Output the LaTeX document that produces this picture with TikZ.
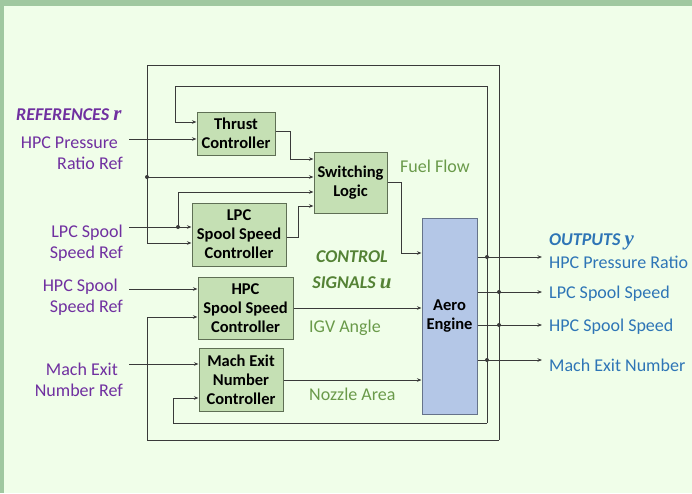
\documentclass[tikz,border=0pt]{standalone}
\usepackage{fontspec}
\setmainfont{Carlito}
\newfontfamily\mathserif{Liberation Serif}
\usetikzlibrary{arrows.meta}
\definecolor{bg}{HTML}{F0FEE9}
\definecolor{strip}{HTML}{A0C8A0}
\definecolor{blockfill}{HTML}{C5E0B4}
\definecolor{blockedge}{HTML}{5F6F55}
\definecolor{aerofill}{HTML}{B4C7E7}
\definecolor{aeroedge}{HTML}{66738A}
\definecolor{wirecol}{HTML}{3A3A3A}
\definecolor{refpurple}{HTML}{7030A0}
\definecolor{sigGreen}{HTML}{6A9A4A}
\definecolor{ctlGreen}{HTML}{548235}
\definecolor{outblue}{HTML}{2E75B6}
\begin{document}
\begin{tikzpicture}[x=1pt,y=-1pt,
  block/.style={draw=blockedge, fill=blockfill, line width=1pt, align=center, inner sep=0pt, font=\fontsize{16.5}{19}\selectfont\bfseries},
  wire/.style={draw=wirecol, line width=0.8pt},
  arr/.style={wire, -{Stealth[length=4.5pt,width=3.5pt]}},
  jdot/.style={circle, fill=wirecol, inner sep=0pt, minimum size=4pt},
  reflabel/.style={text=refpurple, font=\fontsize{18}{21}\selectfont, align=right, anchor=east, inner sep=0pt},
  siglabel/.style={text=sigGreen, font=\fontsize{18}{21}\selectfont, anchor=west, inner sep=0pt},
  outlabel/.style={text=outblue, font=\fontsize{18}{21}\selectfont, anchor=west, inner sep=0pt}]
\useasboundingbox (0,0) rectangle (692,493);
\fill[strip] (0,0) rectangle (692,493);
\fill[bg] (4,6) rectangle (692,493);

% blocks
\node[block, minimum width=78pt, minimum height=43pt] (thrust) at (236,133.5) {Thrust\\Controller};
\node[block, minimum width=73pt, minimum height=61pt] (switch) at (350.5,182.5) {Switching\\Logic};
\node[block, minimum width=94pt, minimum height=63pt] (lpc) at (239,234.5) {LPC\\Spool Speed\\Controller};
\node[block, minimum width=95pt, minimum height=62pt] (hpc) at (245.5,308) {HPC\\Spool Speed\\Controller};
\node[block, minimum width=84pt, minimum height=63pt] (mach) at (241,379.5) {Mach Exit\\Number\\Controller};
\node[block, draw=aeroedge, fill=aerofill, minimum width=55pt, minimum height=196pt] (aero) at (449.5,316) {Aero\\Engine};

% reference inputs
\coordinate (r1) at (129,139);
\coordinate (r2) at (129,227);
\coordinate (r3) at (129,289);
\coordinate (r4) at (129,364);
\draw[arr] (r1) -- (r1 -| thrust.west);
\draw[arr] (r2) -- (r2 -| lpc.west);
\draw[arr] (r3) -- (r3 -| hpc.west);
\draw[arr] (r4) -- (r4 -| mach.west);
\coordinate (jr2) at (178,227);
\coordinate (sw3) at (178,192);
\draw[arr] (jr2) -- (sw3) -- (sw3 -| switch.west);
\node[jdot] (djr2) at (jr2) {};

% controller outputs
\coordinate (t1) at (290,131);
\coordinate (t2) at (290,159);
\draw[arr] (t1 -| thrust.east) -- (t1) -- (t2) -- (t2 -| switch.west);
\coordinate (l1) at (298,237);
\coordinate (l2) at (298,206);
\draw[arr] (l1 -| lpc.east) -- (l1) -- (l2) -- (l2 -| switch.west);
\coordinate (s1) at (401,182);
\coordinate (s2) at (401,253);
\draw[arr] (s1 -| switch.east) -- (s1) -- (s2) -- (s2 -| aero.west);
\coordinate (h1) at (300,308);
\draw[arr] (h1 -| hpc.east) -- (h1 -| aero.west);
\coordinate (m1) at (300,380);
\draw[arr] (m1 -| mach.east) -- (m1 -| aero.west);

% outputs
\coordinate (o1) at (542,257);
\coordinate (o2) at (542,292);
\coordinate (o3) at (542,325);
\coordinate (o4) at (542,360);
\draw[arr] (o1 -| aero.east) -- (o1);
\draw[arr] (o2 -| aero.east) -- (o2);
\draw[arr] (o3 -| aero.east) -- (o3);
\draw[arr] (o4 -| aero.east) -- (o4);

% outer feedback loop
\coordinate (oa) at (499,65);
\coordinate (ob) at (147,65);
\coordinate (oc) at (147,243);
\coordinate (od) at (499,440);
\coordinate (oe) at (147,440);
\coordinate (of) at (147,317);
\coordinate (og) at (147,177);
\draw[arr] (od) -- (oa) -- (ob) -- (oc) -- (oc -| lpc.west);
\draw[arr] (od) -- (oe) -- (of) -- (of -| hpc.west);
\draw[arr] (og) -- (og -| switch.west);
\node[jdot] (dog) at (og) {};
\node[jdot] (do2) at (499,292) {};
\node[jdot] (do3) at (499,325) {};

% inner feedback loop
\coordinate (ia) at (487,86);
\coordinate (ib) at (175,86);
\coordinate (ic) at (175,122);
\coordinate (id) at (487,423);
\coordinate (ie) at (173,423);
\coordinate (if) at (173,398);
\draw[arr] (id) -- (ia) -- (ib) -- (ic) -- (ic -| thrust.west);
\draw[arr] (id) -- (ie) -- (if) -- (if -| mach.west);
\node[jdot] (do1) at (487,257) {};
\node[jdot] (do4) at (487,360) {};

% labels
\node[text=refpurple, font=\fontsize{18}{21}\selectfont\bfseries\itshape, anchor=west, inner sep=0pt] (refhead) at (16,115) {REFERENCES {\mathserif\fontsize{21}{21}\selectfont r}};
\node[reflabel] (lr1) at (123,153.5) {HPC Pressure\hspace*{5pt}\\Ratio Ref};
\node[reflabel] (lr2) at (123,243) {LPC Spool\\Speed Ref};
\node[reflabel] (lr3) at (123,297.5) {HPC Spool\hspace*{5pt}\\Speed Ref};
\node[reflabel] (lr4) at (123,379.5) {Mach Exit\hspace*{5pt}\\Number Ref};

\node[siglabel] (fuel) at (400,166) {Fuel Flow};
\node[text=ctlGreen, font=\fontsize{18}{26}\selectfont\bfseries\itshape, align=center, inner sep=0pt] (ctl) at (352,270) {CONTROL\\SIGNALS {\mathserif\fontsize{21}{21}\selectfont u}};
\node[siglabel] (igv) at (309,328) {IGV Angle};
\node[siglabel] (noz) at (309,394) {Nozzle Area};

\node[text=outblue, font=\fontsize{18}{21}\selectfont\bfseries\itshape, anchor=west, inner sep=0pt] (outhead) at (549,242) {OUTPUTS {\mathserif\fontsize{21}{21}\selectfont y}};
\node[outlabel] (y1) at (549,262) {HPC Pressure Ratio};
\node[outlabel] (y2) at (549,294) {LPC Spool Speed};
\node[outlabel] (y3) at (549,327) {HPC Spool Speed};
\node[outlabel] (y4) at (549,365) {Mach Exit Number};
\end{tikzpicture}
\end{document}
